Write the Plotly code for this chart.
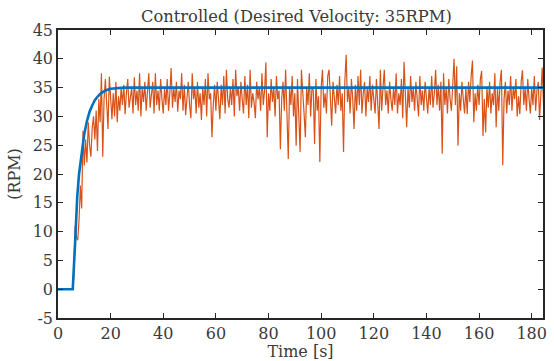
import plotly.graph_objects as go

# ---------------- data ----------------
SAMPLE_PERIOD = 0.5  # s, measured velocity sampling

measured_rpm = [
    0, 0, 0, 0, 0, 0, 0, 0, 0, 0,
    0, 0, 2, 11, 9, 8.5, 12, 18, 14, 27.5,
    21.5, 26, 22, 29, 25, 23, 28, 30, 26, 31,
    24, 33, 29, 37.5, 23, 33, 36.5, 31, 27.8, 36.9,
    32, 29.5, 34, 30, 36, 29, 33.5, 31, 35, 32,
    35.5, 30.4, 34, 36.5, 31.5, 33, 35, 30.5, 36.8, 32,
    34.5, 31, 37.5, 30, 35, 32.5, 36, 31, 34, 37.5,
    31.5, 33.5, 36, 30.5, 37.5, 32, 34.5, 31, 36.5, 33,
    30.5, 35, 32, 36.5, 31, 34, 38.4, 31.5, 35, 32.5,
    36, 30.8, 34.5, 33, 37.5, 31, 35.5, 30.2, 34, 36,
    32, 29.7, 37.5, 33, 35, 30.5, 36, 31.5, 34, 29.4,
    35, 32, 36.5, 30, 37.5, 33, 34, 26.4, 32, 35.5,
    31, 36, 33, 29.5, 35.5, 32, 37, 30.5, 38.1, 33,
    31.5, 35, 32, 36.5, 30, 38.1, 33.5, 35, 31, 36,
    33, 30.5, 37, 32, 35.5, 29.7, 38.1, 31.5, 34, 32.5,
    29.7, 36, 33, 35, 31, 37.5, 32, 34.5, 39.4, 26.4,
    34, 31, 36.5, 32.5, 35, 30, 37, 33, 34.5, 24.3,
    33, 36, 31, 38.1, 30.5, 22.6, 35, 32, 37, 30,
    34, 24.9, 36.5, 31, 23.8, 38.1, 33, 30.5, 26.4, 35,
    32, 37.5, 30, 35, 34.5, 25.2, 36.5, 31, 33.5, 22.1,
    35, 38.1, 31.5, 34, 30.5, 37, 38.1, 32, 28.4, 36,
    33, 30.5, 35.5, 32, 37, 31, 34, 23.8, 36, 40.7,
    32.5, 35, 30.5, 36.5, 33, 27.8, 35.5, 31, 37, 32,
    38.1, 30.5, 34, 36, 30, 35, 32.5, 37, 31, 35.5,
    33, 30.5, 36.5, 32, 27.8, 38.1, 31, 35, 38.1, 32,
    34.5, 30.5, 36, 33, 31, 35, 32, 37.5, 30.5, 34,
    32, 36.5, 29.7, 39.5, 33, 28.1, 35, 31.5, 37, 32.5,
    35, 31, 36, 33.5, 30, 37, 32, 34.5, 31, 36,
    33, 30.5, 35, 32, 37, 31.5, 34, 38.1, 32, 35.5,
    31, 36, 23.5, 37.5, 32, 35, 30.5, 36.5, 33, 31,
    35.5, 40, 32, 38.7, 24.9, 34, 31, 36, 33, 30.5,
    35, 30.4, 36, 32.5, 37, 39.7, 29, 34, 31, 35.5,
    32, 36.5, 37.9, 26.6, 33, 27.2, 35, 31.5, 36, 30.5,
    34, 32, 37.5, 28.1, 35, 31, 36, 38.1, 21.5, 33,
    36, 30.5, 34.5, 32, 37, 31, 35, 33, 36.5, 30,
    33.5, 30.4, 36, 38, 32, 35, 31, 36.5, 33, 30.5,
    35, 32, 37, 31, 34.5, 36, 29.4, 33, 38.5, 32,
]
measured_time = [i * SAMPLE_PERIOD for i in range(len(measured_rpm))]

model_time = [0, 5.6, 6.5, 7.3, 8, 9, 10, 11, 12, 13, 14, 15, 16, 17, 18, 20, 22, 25, 185]
model_rpm = [0, 0, 8, 16, 20, 24, 27, 29.2, 30.8, 31.9, 32.8, 33.4, 33.9, 34.2, 34.5, 34.8, 34.93, 35, 35]

x_tick_vals = [0, 20, 40, 60, 80, 100, 120, 140, 160, 180]
x_tick_text = ["0", "20", "40", "60", "80", "100", "120", "140", "160", "180"]
y_tick_vals = [-5, 0, 5, 10, 15, 20, 25, 30, 35, 40, 45]
y_tick_text = ["-5", "0", "5", "10", "15", "20", "25", "30", "35", "40", "45"]

title_text = "Controlled (Desired Velocity: 35RPM)"
x_title = "Time [s]"
y_title = "(RPM)"

# ---------------- figure ----------------
FONT = "DejaVu Serif, Liberation Serif, serif"
TXT = "#3a3a3a"
AX = "#262626"

fig = go.Figure()
fig.add_trace(go.Scatter(x=measured_time, y=measured_rpm, mode="lines",
                         line=dict(color="#D95319", width=1.2), showlegend=False))
fig.add_trace(go.Scatter(x=model_time, y=model_rpm, mode="lines",
                         line=dict(color="#0072BD", width=2.6), showlegend=False))

axis_common = dict(showline=True, linecolor=AX, linewidth=1.5, mirror="ticks",
                   ticks="inside", ticklen=5, tickcolor=AX, tickwidth=1.2,
                   showgrid=False, zeroline=False,
                   tickfont=dict(family=FONT, size=16, color=TXT))

fig.update_layout(
    width=554, height=361,
    margin=dict(l=58, r=7, t=30, b=40),
    paper_bgcolor="white", plot_bgcolor="white",
    font=dict(family=FONT, size=16, color=TXT),
    title=dict(text=title_text, x=0.535, xanchor="center", y=0.955, yanchor="middle",
               font=dict(family=FONT, size=16.3, color=TXT)),
    xaxis=dict(range=[0, 184.3], tickvals=x_tick_vals, ticktext=x_tick_text,
               title=dict(text=x_title, standoff=0, font=dict(family=FONT, size=16, color=TXT)),
               **axis_common),
    yaxis=dict(range=[-5, 45], tickvals=y_tick_vals, ticktext=y_tick_text,
               title=dict(text=y_title, standoff=8, font=dict(family=FONT, size=16, color=TXT)),
               **axis_common),
)

fig.write_html("out.html")
